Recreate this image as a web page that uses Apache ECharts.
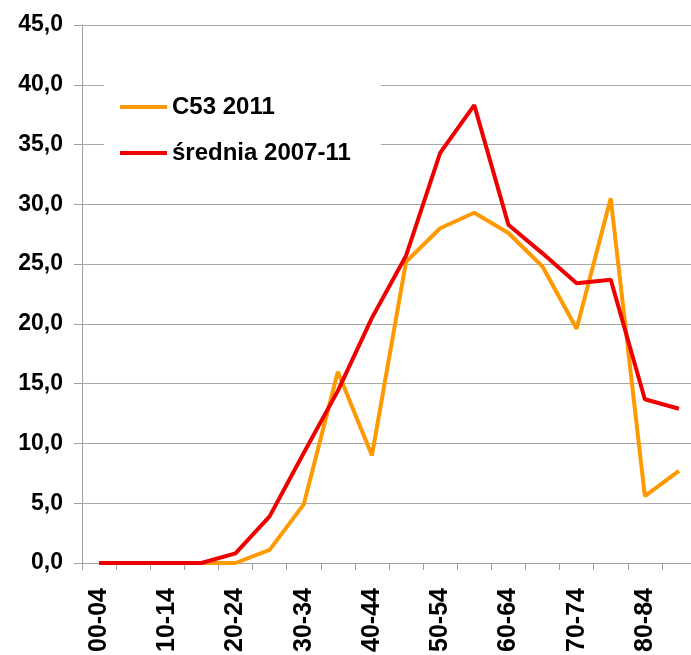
<!DOCTYPE html>
<html>
<head>
<meta charset="utf-8">
<script src="https://cdn.jsdelivr.net/npm/echarts@6/dist/echarts.min.js"></script>
<style>
  html, body { margin: 0; padding: 0; background: #ffffff; overflow: hidden; }
  /* the plot runs slightly past the right edge of the window */
  #chart { width: 710px; height: 655px; }
</style>
</head>
<body>
<div id="chart"></div>
<script>
// Age groups (5-year bands)
const ageGroups = ['00-04', '05-09', '10-14', '15-19', '20-24', '25-29', '30-34', '35-39', '40-44',
  '45-49', '50-54', '55-59', '60-64', '65-69', '70-74', '75-79', '80-84', '85+'];

// Rates per age group
const c53_2011 = [0, 0, 0, 0, 0, 1.1, 4.9, 16.0, 9.0, 25.2, 28.0, 29.3, 27.6, 24.8, 19.6, 30.5, 5.6, 7.7];
const srednia_2007_11 = [0, 0, 0, 0, 0.8, 3.9, 9.2, 14.4, 20.5, 25.7, 34.3, 38.3, 28.3, 25.9, 23.4, 23.7, 13.7, 12.9];

// Value axis range
const yMin = 0, yMax = 45, yStep = 5;

const FONT = '"Liberation Sans", Arial, sans-serif';

const chart = echarts.init(document.getElementById('chart'), null, { renderer: 'canvas' });
chart.setOption({
  backgroundColor: '#ffffff',
  animation: false,
  grid: { left: 82, top: 25, width: 614, height: 538, containLabel: false },
  legend: {
    orient: 'vertical',
    left: 104,
    top: 81,
    padding: [14, 30, 14, 16],
    itemGap: 22,
    itemWidth: 47,
    itemHeight: 4,
    icon: 'rect',
    backgroundColor: '#ffffff',
    textStyle: { fontFamily: FONT, fontWeight: 'bold', fontSize: 24, color: '#000000' },
    data: ['C53 2011', 'średnia 2007-11']
  },
  xAxis: {
    type: 'category',
    data: ageGroups,
    boundaryGap: true,
    axisLine: { show: true, lineStyle: { color: '#a0a0a0', width: 1 } },
    axisTick: { show: true, interval: 0, length: 7, lineStyle: { color: '#a0a0a0' } },
    axisLabel: {
      interval: 1,
      rotate: 90,
      margin: 25,
      fontFamily: FONT,
      fontWeight: 'bold',
      fontSize: 25,
      color: '#000000'
    },
    splitLine: { show: false }
  },
  yAxis: {
    type: 'value',
    min: yMin,
    max: yMax,
    interval: yStep,
    axisLine: { show: true, lineStyle: { color: '#a0a0a0', width: 1 } },
    axisTick: { show: true, length: 8, lineStyle: { color: '#a0a0a0' } },
    axisLabel: {
      margin: 19,
      fontFamily: FONT,
      fontWeight: 'bold',
      fontSize: 23,
      color: '#000000',
      formatter: v => v.toFixed(1).replace('.', ',')
    },
    splitLine: { show: true, lineStyle: { color: '#a8a8a8', width: 1 } }
  },
  series: [
    {
      name: 'C53 2011',
      type: 'line',
      data: c53_2011,
      showSymbol: false,
      symbol: 'none',
      lineStyle: { color: '#ff9900', width: 4 },
      itemStyle: { color: '#ff9900' },
      z: 2
    },
    {
      name: 'średnia 2007-11',
      type: 'line',
      data: srednia_2007_11,
      showSymbol: false,
      symbol: 'none',
      lineStyle: { color: '#ee0000', width: 4 },
      itemStyle: { color: '#ee0000' },
      z: 3
    }
  ]
});
</script>
</body>
</html>
